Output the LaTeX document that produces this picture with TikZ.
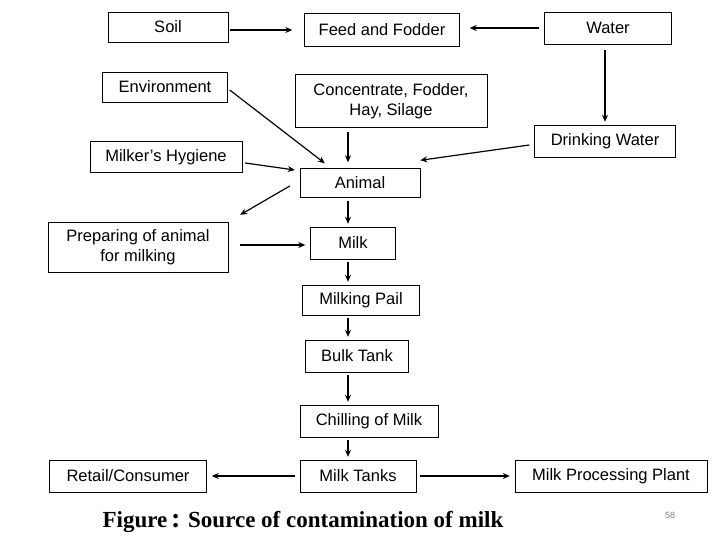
\documentclass[tikz,border=0pt]{standalone}
\usepackage{fontspec}
\setmainfont{Liberation Sans}
\newfontfamily\capfont{Liberation Serif}
\usetikzlibrary{positioning,arrows.meta}
\tikzstyle{box} = [draw, thin, text centered, inner sep=2pt, font=\fontsize{16.5}{20}\selectfont, align=center]
\tikzstyle{flow} = [draw, line width=1.2pt, -{Stealth[length=7pt,width=6pt]}]

\begin{document}
\begin{tikzpicture}[x=1pt, y=-1pt]
	\useasboundingbox (0,0) rectangle (720,540);

	% sources
	\node [box, minimum width=120, minimum height=30] (Soil)  at (168,27)  {Soil};
	\node [box, minimum width=155, minimum height=33] (Feed)  at (382,30)  {Feed and Fodder};
	\node [box, minimum width=127, minimum height=32] (Water) at (608,28)  {Water};
	\node [box, minimum width=125, minimum height=30] (Env)   at (165,87)  {Environment};
	\node [box, minimum width=192, minimum height=53] (Conc)  at (391,101) {Concentrate, Fodder,\\Hay, Silage};
	\node [box, minimum width=141, minimum height=32] (Drink) at (605,141) {Drinking Water};
	\node [box, minimum width=152, minimum height=31] (Hyg)   at (166,157) {Milker’s Hygiene};
	\node [box, minimum width=120, minimum height=29] (Animal) at (360,183) {Animal};
	\node [box, minimum width=180, minimum height=50] (Prep)  at (138,247) {Preparing of animal\\for milking};

	% milk chain
	\node [box, minimum width=85,  minimum height=32] (Milk)  at (353,243) {Milk};
	\node [box, minimum width=117, minimum height=30] (Pail)  at (361,300) {Milking Pail};
	\node [box, minimum width=103, minimum height=32] (Bulk)  at (357,356) {Bulk Tank};
	\node [box, minimum width=138, minimum height=32] (Chill) at (369,421) {Chilling of Milk};
	\node [box, minimum width=116, minimum height=32] (Tanks) at (358,476) {Milk Tanks};
	\node [box, minimum width=157, minimum height=32] (Retail) at (128,476) {Retail/Consumer};
	\node [box, minimum width=192, minimum height=32] (Plant) at (611,476) {Milk Processing Plant};

	% caption
	\node [font=\capfont\bfseries\fontsize{23}{26}\selectfont] (Cap) at (303,522) {Figure\,{\fontsize{28}{28}\selectfont:} Source of contamination of milk};
	\node [font=\fontsize{9}{10}\selectfont, text=gray] (Page) at (670,515) {58};

	% draw edges
	\path [flow] ([xshift=2pt,yshift=-3pt]Soil.east) -- ([xshift=-12pt]Feed.west);
	\path [flow] ([xshift=-5pt]Water.west) -- ([xshift=10pt,yshift=2pt]Feed.east);
	\path [flow] ([xshift=-3pt,yshift=-6pt]Water.south) -- ([yshift=3pt]Drink.north);
	\path [flow] ([xshift=2pt,yshift=-3pt]Env.east) -- ([xshift=25pt,yshift=5pt]Animal.north west);
	\path [flow] ([xshift=-43pt,yshift=-4pt]Conc.south) -- ([xshift=-12pt,yshift=6pt]Animal.north);
	\path [flow] ([xshift=-5pt,yshift=-4pt]Drink.west) -- ([yshift=8pt]Animal.north east);
	\path [flow] ([xshift=3pt,yshift=-6pt]Hyg.east) -- ([xshift=-5pt,yshift=13pt]Animal.west);
	\path [flow] ([xshift=-10pt,yshift=-3pt]Animal.west) -- ([xshift=12pt,yshift=7pt]Prep.north east);
	\path [flow] ([xshift=12pt,yshift=2pt]Prep.east) -- ([xshift=-5pt,yshift=-2pt]Milk.west);
	\path [flow] ([xshift=-12pt,yshift=-3pt]Animal.south) -- ([xshift=-5pt,yshift=3pt]Milk.north);
	\path [flow] ([xshift=-5pt,yshift=-3pt]Milk.south) -- ([xshift=-13pt,yshift=3pt]Pail.north);
	\path [flow] ([xshift=-13pt,yshift=-3pt]Pail.south) -- ([xshift=-9pt,yshift=3pt]Bulk.north);
	\path [flow] ([xshift=-9pt,yshift=-3pt]Bulk.south) -- ([xshift=-21pt,yshift=3pt]Chill.north);
	\path [flow] ([xshift=-21pt,yshift=-3pt]Chill.south) -- ([xshift=-10pt,yshift=3pt]Tanks.north);
	\path [flow] ([xshift=-5pt]Tanks.west) -- ([xshift=5pt]Retail.east);
	\path [flow] ([xshift=4pt]Tanks.east) -- ([xshift=-5pt]Plant.west);
\end{tikzpicture}
\end{document}
